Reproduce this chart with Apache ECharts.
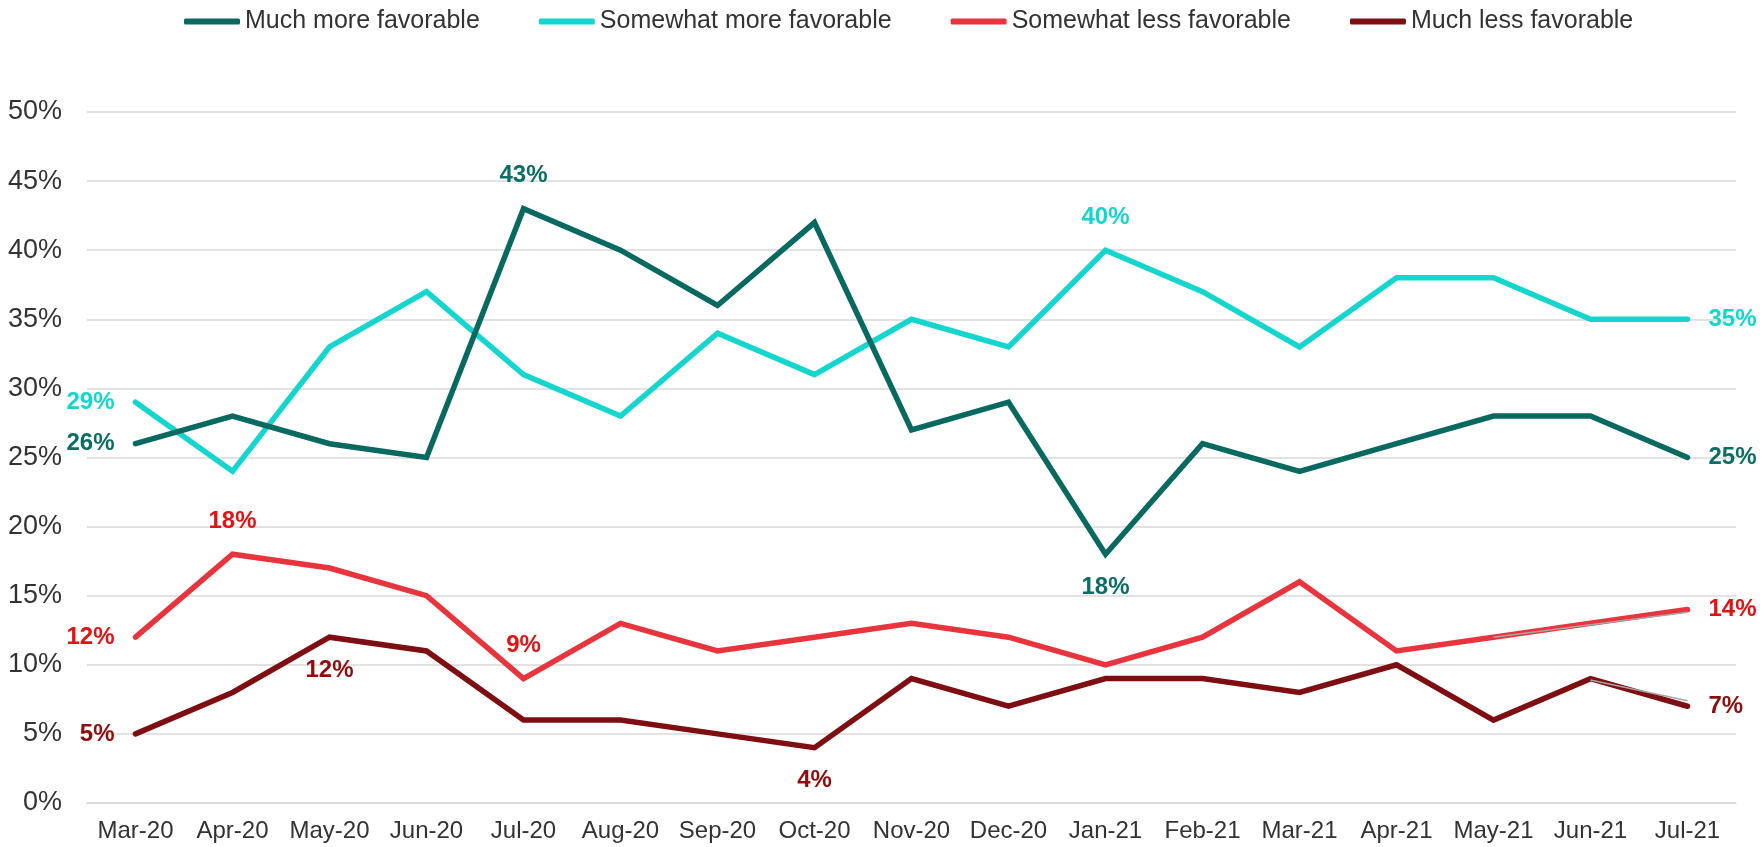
<!DOCTYPE html>
<html>
<head>
<meta charset="utf-8">
<script src="https://cdn.jsdelivr.net/npm/echarts@6/dist/echarts.min.js"></script>
<style>
html,body{margin:0;padding:0;background:#fff;}
#chart{width:1764px;height:847px;}
</style>
</head>
<body>
<div id="chart"></div>
<script>
const categories = ['Mar-20','Apr-20','May-20','Jun-20','Jul-20','Aug-20','Sep-20','Oct-20','Nov-20','Dec-20','Jan-21','Feb-21','Mar-21','Apr-21','May-21','Jun-21','Jul-21'];
const muchMore = [26,28,26,25,43,40,36,42,27,29,18,26,24,26,28,28,25];
const somewhatMore = [29,24,33,37,31,28,34,31,35,33,40,37,33,38,38,35,35];
const somewhatLess = [12,18,17,15,9,13,11,12,13,12,10,12,16,11,12,13,14];
const muchLess = [5,8,12,11,6,6,5,4,9,7,9,9,8,10,6,9,7];
const trendLess = [null,null,null,null,null,null,null,null,null,null,null,null,null,null,12,12.9,13.8];
const trendMuchLess = [null,null,null,null,null,null,null,null,null,null,null,null,null,null,null,8.9,7.4];
const yTicks = {min:0, max:50, interval:5};

// which points get a label and where
const labelPos = {
  muchMore: {0:'left', 4:'top', 10:'bottom', 16:'right'},
  somewhatMore: {0:'left', 10:'top', 16:'right'},
  somewhatLess: {0:'left', 1:'top', 4:'top', 16:'right'},
  muchLess: {0:'left', 2:'bottom', 7:'bottom', 16:'right'}
};

function build(values, positions, labelColor) {
  return values.map((v, i) => {
    const p = positions[i];
    if (!p) return v;
    return {
      value: v,
      label: {
        show: true,
        position: p,
        distance: p === 'left' || p === 'right' ? 20 : 20,
        formatter: '{c}%',
        color: labelColor,
        fontSize: 24,
        fontWeight: 'bold',
        fontFamily: 'Liberation Sans, Arial, sans-serif'
      }
    };
  });
}

function lineSeries(name, values, color, labelColor, positions, z) {
  return {
    name: name,
    type: 'line',
    data: build(values, positions, labelColor),
    symbol: 'circle',
    symbolSize: 2,
    showSymbol: true,
    itemStyle: {color: color},
    lineStyle: {color: color, width: 5.5, cap: 'round', join: 'miter'},
    emphasis: {disabled: true},
    z: z,
    animation: false
  };
}

const chart = echarts.init(document.getElementById('chart'), null, {renderer: 'canvas'});
chart.setOption({
  backgroundColor: '#ffffff',
  animation: false,
  textStyle: {fontFamily: 'Liberation Sans, Arial, sans-serif'},
  legend: {
    top: 4,
    left: 179,
    itemWidth: 56,
    itemHeight: 6,
    itemGap: 59,
    icon: 'roundRect',
    textStyle: {fontSize: 25, color: '#333333', fontFamily: 'Liberation Sans, Arial, sans-serif'},
    data: ['Much more favorable','Somewhat more favorable','Somewhat less favorable','Much less favorable']
  },
  grid: {left: 87, right: 28, top: 112, bottom: 44, containLabel: false},
  xAxis: {
    type: 'category',
    data: categories,
    boundaryGap: true,
    axisLine: {show: true, lineStyle: {color: '#d9d9d9', width: 1.5}},
    axisTick: {show: false},
    axisLabel: {color: '#333333', fontSize: 24, margin: 16, interval: 0, fontFamily: 'Liberation Sans, Arial, sans-serif'}
  },
  yAxis: {
    type: 'value',
    min: yTicks.min, max: yTicks.max, interval: yTicks.interval,
    axisLine: {show: false},
    axisTick: {show: false},
    splitLine: {lineStyle: {color: '#d9d9d9', width: 1.5}},
    axisLabel: {formatter: '{value}%', color: '#333333', fontSize: 27, margin: 25, fontFamily: 'Liberation Sans, Arial, sans-serif'}
  },
  series: [
    lineSeries('Much more favorable', muchMore, '#07695F', '#0B6E66', labelPos.muchMore, 4),
    lineSeries('Somewhat more favorable', somewhatMore, '#14D6CE', '#14D6CE', labelPos.somewhatMore, 3),
    lineSeries('Somewhat less favorable', somewhatLess, '#E8353D', '#E01414', labelPos.somewhatLess, 2),
    lineSeries('Much less favorable', muchLess, '#7E0E12', '#8E0E0E', labelPos.muchLess, 1),
    {type:'line', data: trendLess, symbol:'none', lineStyle:{color:'#a6a6a6', width:1.5}, z:5, silent:true, animation:false, connectNulls:false},
    {type:'line', data: trendMuchLess, symbol:'none', lineStyle:{color:'#a6a6a6', width:1.5}, z:5, silent:true, animation:false, connectNulls:false}
  ]
});
</script>
</body>
</html>
